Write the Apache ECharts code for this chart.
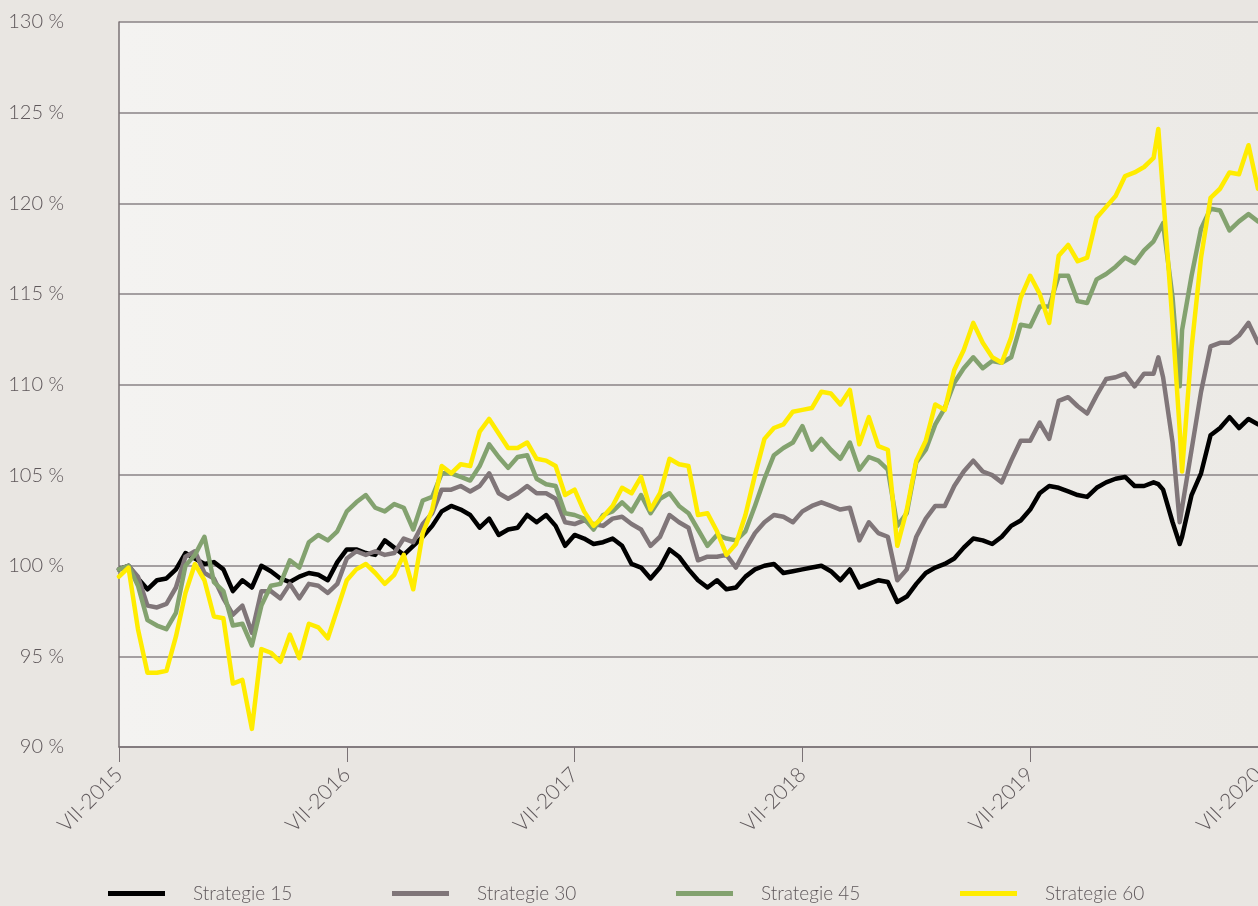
<!DOCTYPE html>
<html>
<head>
<meta charset="utf-8">
<script src="https://cdn.jsdelivr.net/npm/echarts@6/dist/echarts.min.js"></script>
<style>
html,body{margin:0;padding:0;background:#e9e6e2;overflow:hidden;}
#chart{width:1258px;height:906px;}
</style>
</head>
<body>
<div id="chart"></div>
<script>
// x positions: months since July 2015
var months = [
0,0.5,1,1.5,2,2.5,3,3.5,4,4.5,5,5.5,6,6.5,7,7.5,8,8.5,9,9.5,
10,10.5,11,11.5,12,12.5,13,13.5,14,14.5,15,15.5,16,16.5,17,17.5,18,18.5,19,19.5,
20,20.5,21,21.5,22,22.5,23,23.5,24,24.5,25,25.5,26,26.5,27,27.5,28,28.5,29,29.5,
30,30.5,31,31.5,32,32.5,33,33.5,34,34.5,35,35.5,36,36.5,37,37.5,38,38.5,39,39.5,
40,40.5,41,41.5,42,42.5,43,43.5,44,44.5,45,45.5,46,46.5,47,47.5,48,48.5,49,49.5,
50,50.5,51,51.5,52,52.5,53,53.5,54,54.5,54.75,55,55.5,55.875,
56,56.5,57,57.5,58,58.5,59,59.5,60
];
var tickLabels = ['VII-2015','VII-2016','VII-2017','VII-2018','VII-2019','VII-2020'];
var seriesNames = ['Strategie 15','Strategie 30','Strategie 45','Strategie 60'];

var s15 = [
99.8,100.0,99.3,98.7,99.2,99.3,99.8,100.7,100.4,100.1,
100.2,99.8,98.6,99.2,98.8,100.0,99.7,99.3,99.1,99.4,
99.6,99.5,99.2,100.2,100.9,100.9,100.7,100.6,101.4,101.0,
100.6,101.1,101.6,102.2,103.0,103.3,103.1,102.8,102.1,102.6,
101.7,102.0,102.1,102.8,102.4,102.8,102.2,101.1,101.7,101.5,
101.2,101.3,101.5,101.1,100.1,99.9,99.3,99.9,100.9,100.5,
99.8,99.2,98.8,99.2,98.7,98.8,99.4,99.8,100.0,100.1,
99.6,99.7,99.8,99.9,100.0,99.7,99.2,99.8,98.8,99.0,
99.2,99.1,98.0,98.3,99.0,99.6,99.9,100.1,100.4,101.0,
101.5,101.4,101.2,101.6,102.2,102.5,103.1,104.0,104.4,104.3,
104.1,103.9,103.8,104.3,104.6,104.8,104.9,104.4,104.4,104.6,
104.5,104.2,102.4,101.2,
101.6,103.9,105.1,107.2,107.6,108.2,107.6,108.1,107.8
];
var s30 = [
99.8,100.0,99.4,97.8,97.7,97.9,98.8,100.5,100.8,99.6,
99.3,98.2,97.3,97.8,96.3,98.6,98.6,98.2,99.0,98.2,
99.0,98.9,98.5,99.0,100.4,100.8,100.6,100.8,100.6,100.7,
101.5,101.3,102.3,102.9,104.2,104.2,104.4,104.1,104.4,105.1,
104.0,103.7,104.0,104.4,104.0,104.0,103.7,102.4,102.3,102.5,
102.3,102.2,102.6,102.7,102.3,102.0,101.1,101.6,102.8,102.4,
102.1,100.3,100.5,100.5,100.6,99.9,100.9,101.8,102.4,102.8,
102.7,102.4,103.0,103.3,103.5,103.3,103.1,103.2,101.4,102.4,
101.8,101.6,99.2,99.8,101.6,102.6,103.3,103.3,104.4,105.2,
105.8,105.2,105.0,104.6,105.8,106.9,106.9,107.9,107.0,109.1,
109.3,108.8,108.4,109.4,110.3,110.4,110.6,109.9,110.6,110.6,
111.5,110.4,106.8,102.4,
103.2,106.4,109.6,112.1,112.3,112.3,112.7,113.4,112.3
];
var s45 = [
99.8,100.0,98.9,97.0,96.7,96.5,97.4,100.0,100.6,101.6,
99.1,98.6,96.7,96.8,95.6,97.8,98.9,99.0,100.3,99.9,
101.3,101.7,101.4,101.9,103.0,103.5,103.9,103.2,103.0,103.4,
103.2,102.0,103.6,103.8,105.1,105.1,104.9,104.7,105.5,106.7,
106.0,105.4,106.0,106.1,104.8,104.5,104.4,102.9,102.8,102.6,
102.0,102.8,103.0,103.5,103.0,103.9,102.9,103.7,104.0,103.3,
102.9,102.0,101.1,101.7,101.5,101.4,101.9,103.3,104.8,106.1,
106.5,106.8,107.7,106.4,107.0,106.4,105.9,106.8,105.3,106.0,
105.8,105.3,102.2,102.9,105.7,106.4,107.8,108.7,110.1,110.9,
111.5,110.9,111.3,111.2,111.5,113.3,113.2,114.3,114.3,116.0,
116.0,114.6,114.5,115.8,116.1,116.5,117.0,116.7,117.4,117.9,
118.4,118.9,114.8,109.9,
113.0,116.0,118.6,119.7,119.6,118.5,119.0,119.4,119.0
];
var s60 = [
99.4,99.9,96.5,94.1,94.1,94.2,96.1,98.5,100.1,99.2,
97.2,97.1,93.5,93.7,91.0,95.4,95.2,94.7,96.2,94.9,
96.8,96.6,96.0,97.6,99.2,99.8,100.1,99.6,99.0,99.5,
100.6,98.7,101.8,103.1,105.5,105.1,105.6,105.5,107.4,108.1,
107.3,106.5,106.5,106.8,105.9,105.8,105.5,103.9,104.2,103.0,
102.2,102.7,103.3,104.3,104.0,104.9,103.1,104.0,105.9,105.6,
105.5,102.8,102.9,101.9,100.6,101.2,102.8,105.0,107.0,107.6,
107.8,108.5,108.6,108.7,109.6,109.5,108.9,109.7,106.7,108.2,
106.6,106.4,101.1,103.1,105.8,106.9,108.9,108.6,110.8,111.9,
113.4,112.3,111.5,111.2,112.6,114.8,116.0,115.0,113.4,117.1,
117.7,116.8,117.0,119.2,119.8,120.4,121.5,121.7,122.0,122.5,
124.1,120.5,113.4,107.5,
105.2,112.0,117.0,120.3,120.8,121.7,121.6,123.2,120.8
];

var colors = ['#000000','#807679','#83a26f','#ffec00'];
var FONT = 'Lato';
var TXT = '#5e575a';

function pairs(vals){ return months.map(function(m,k){ return [m, vals[k]]; }); }
var allValues = [s15, s30, s45, s60];

var chart = echarts.init(document.getElementById('chart'), null, {renderer:'canvas'});
var legendLeft = [108, 392, 676, 960];
var option = {
  backgroundColor: '#e9e6e2',
  animation: false,
  grid: {
    left: 119, right: 0, top: 22, bottom: 159,
    containLabel: false, outerBoundsMode: 'none',
    show: true, borderWidth: 0,
    backgroundColor: new echarts.graphic.LinearGradient(0,0,1,0,[
      {offset:0,color:'#f4f3f1'},{offset:1,color:'#ecEAe6'}
    ])
  },
  legend: seriesNames.map(function(n,k){
    return {
      data:[n], left: legendLeft[k], top: 884, icon:'rect',
      itemWidth: 57, itemHeight: 5, itemGap: 0, padding: 0,
      textStyle:{fontFamily:FONT, fontWeight:300, fontSize:19, color:TXT, padding:[0,0,0,23]}
    };
  }),
  xAxis: {
    type:'value', min:0, max:60, interval:12,
    axisLine:{show:true, lineStyle:{color:'#7a7275', width:1.5}},
    axisTick:{show:true, inside:false, length:15, lineStyle:{color:'#7a7275', width:1}},
    splitLine:{show:false},
    axisLabel:{
      rotate:45, margin:24, fontFamily:FONT, fontWeight:300, fontSize:21, color:TXT,
      hideOverlap:false,
      formatter:function(v){ return tickLabels[Math.round(v/12)]; }
    }
  },
  yAxis: {
    type:'value', min:90, max:130, interval:5,
    axisLine:{show:true, lineStyle:{color:'#7a7275', width:1.5}},
    axisTick:{show:false},
    splitLine:{show:true, lineStyle:{color:'#8a8386', width:1.5}},
    axisLabel:{margin:55, fontFamily:FONT, fontWeight:300, fontSize:20, color:TXT,
      formatter:'{value} %'}
  },
  series: seriesNames.map(function(n,k){
    return {
      name:n, type:'line', showSymbol:false, symbol:'none',
      data: pairs(allValues[k]),
      color: colors[k],
      lineStyle:{width:4.5, color:colors[k], cap:'round', join:'round'},
      z: 2 + k
    };
  })
};
chart.setOption(option);
</script>
</body>
</html>
